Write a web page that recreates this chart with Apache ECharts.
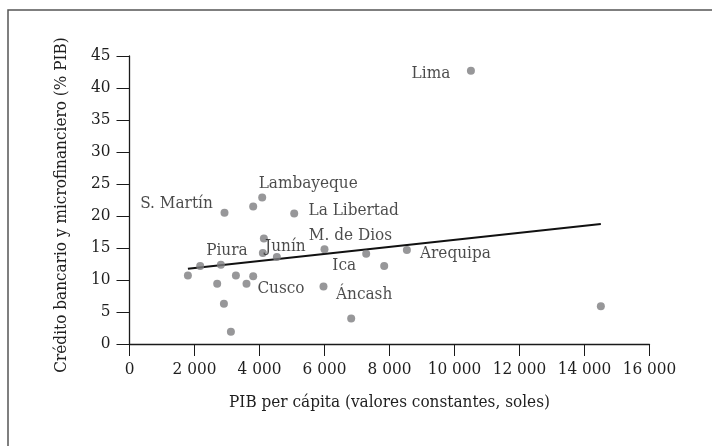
<!DOCTYPE html>
<html>
<head>
<meta charset="utf-8">
<script src="https://cdn.jsdelivr.net/npm/echarts@6/dist/echarts.min.js"></script>
<style>
  html, body { margin: 0; padding: 0; background: #fff; }
  #chart { width: 712px; height: 446px; }
</style>
</head>
<body>
<div id="chart"></div>
<script>
// Departamentos: PIB per cápita (soles constantes) vs crédito bancario y microfinanciero (% PIB)
const regions = ['', '', 'Piura', '', 'S. Martín', '', '', '', '', '', '',
  'Lambayeque', '', '', 'Junín', 'La Libertad', 'M. de Dios', 'Cusco', 'Áncash',
  '', 'Ica', 'Arequipa', 'Lima', ''];
const gdpPerCapita = [1797, 2175, 2812, 2698, 2923, 2905, 3120, 3274, 3600, 3806, 3806,
  4083, 4135, 4103, 4534, 5068, 6000, 5969, 6821, 7283, 7837, 8535, 10505, 14503];
const creditPct = [10.7, 12.2, 12.4, 9.4, 20.5, 6.3, 1.9, 10.7, 9.4, 10.6, 21.5,
  22.9, 16.5, 14.2, 13.6, 20.4, 14.8, 9.0, 4.0, 14.1, 12.2, 14.7, 42.7, 5.9];

// Recta de tendencia (extremos)
const trendX = [1797, 14503];
const trendY = [11.76, 18.76];

// Ejes
const xTicks = [0, 2000, 4000, 6000, 8000, 10000, 12000, 14000, 16000];
const yTicks = [0, 5, 10, 15, 20, 25, 30, 35, 40, 45];

// Desplazamiento de cada etiqueta respecto a su punto (px)
const labelOffsets = {
  'Lima': [-40, 2.5],
  'S. Martín': [-48, -9.5],
  'Lambayeque': [46, -13.5],
  'La Libertad': [59.5, -3],
  'M. de Dios': [26, -14],
  'Piura': [6, -14.5],
  'Junín': [8.5, -10.5],
  'Ica': [-40, -0.5],
  'Cusco': [-42.5, 2.5],
  'Áncash': [13, -23.5],
  'Arequipa': [48.5, 3.3]
};

const FONT = "'DejaVu Serif Condensed', 'DejaVu Serif', serif";
const TEXT = '#1e1e1e';

const points = gdpPerCapita.map((x, i) => {
  const item = { value: [x, creditPct[i]], name: regions[i] };
  if (regions[i]) {
    item.label = {
      show: true,
      position: 'inside',
      offset: labelOffsets[regions[i]],
      formatter: '{b}',
      color: TEXT,
      fontFamily: FONT,
      fontSize: 17
    };
  }
  return item;
});

const fmt = v => String(v).replace(/\B(?=(\d{3})+(?!\d))/g, ' ');

const chart = echarts.init(document.getElementById('chart'), null, { renderer: 'canvas' });
chart.setOption({
  animation: false,
  backgroundColor: '#fff',
  textStyle: { fontFamily: FONT, color: TEXT },
  graphic: [{
    type: 'rect',
    shape: { x: 8, y: 10, width: 760, height: 500 },
    style: { fill: 'none', stroke: '#555', lineWidth: 1.5 },
    silent: true
  }],
  grid: { left: 129.5, right: 62.5, top: 56, bottom: 102, containLabel: false },
  xAxis: {
    type: 'value',
    min: xTicks[0], max: xTicks[xTicks.length - 1], interval: xTicks[1] - xTicks[0],
    name: 'PIB per cápita (valores constantes, soles)',
    nameLocation: 'middle', nameGap: 50,
    nameTextStyle: { fontFamily: FONT, fontSize: 17, color: TEXT },
    axisLine: { show: true, onZero: false, lineStyle: { color: '#1a1a1a', width: 1.3 } },
    axisTick: { show: true, inside: false, length: 12, lineStyle: { color: '#1a1a1a', width: 1 } },
    axisLabel: { margin: 17, fontFamily: FONT, fontSize: 17, color: TEXT, formatter: fmt },
    splitLine: { show: false }
  },
  yAxis: {
    type: 'value',
    min: yTicks[0], max: yTicks[yTicks.length - 1], interval: yTicks[1] - yTicks[0],
    name: 'Crédito bancario y microfinanciero (% PIB)',
    nameLocation: 'middle', nameGap: 59,
    nameTextStyle: { fontFamily: FONT, fontSize: 17, color: TEXT, padding: [0, 10, 0, 0] },
    axisLine: { show: true, onZero: false, lineStyle: { color: '#1a1a1a', width: 1.3 } },
    axisTick: { show: true, inside: false, length: 13, lineStyle: { color: '#1a1a1a', width: 1 } },
    axisLabel: { margin: 19, fontFamily: FONT, fontSize: 17, color: TEXT },
    splitLine: { show: false }
  },
  series: [
    {
      type: 'scatter',
      symbol: 'circle',
      symbolSize: 8,
      itemStyle: { color: '#7d7d80' },
      data: points,
      z: 3
    },
    {
      type: 'line',
      data: trendX.map((x, i) => [x, trendY[i]]),
      showSymbol: false,
      symbol: 'none',
      lineStyle: { color: '#111', width: 2 },
      z: 2
    }
  ]
});
</script>
</body>
</html>
